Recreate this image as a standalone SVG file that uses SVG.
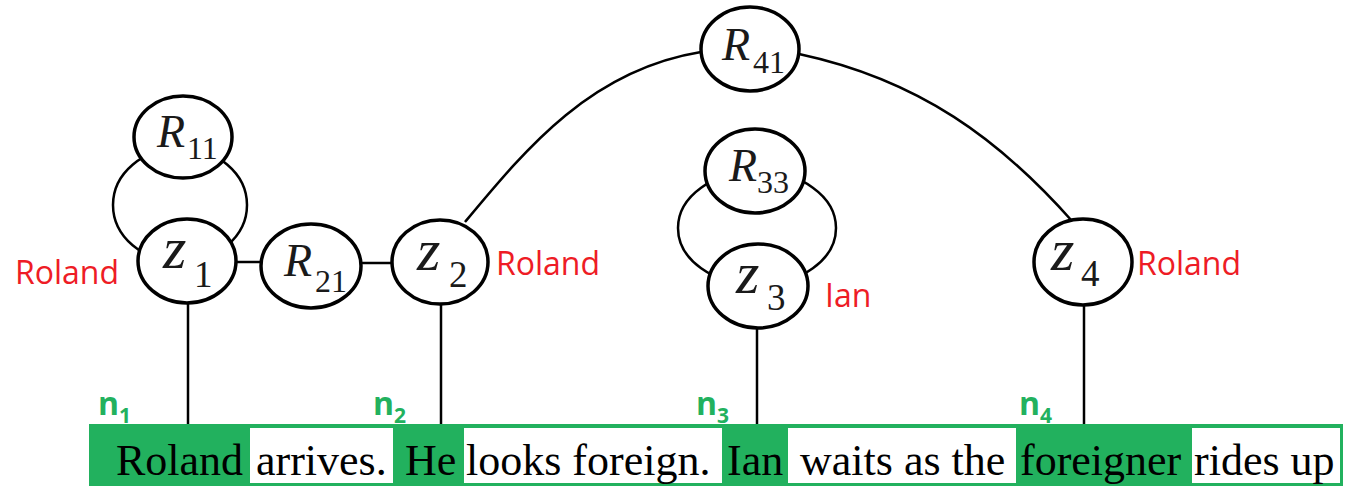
<svg xmlns="http://www.w3.org/2000/svg" width="1345" height="486" viewBox="0 0 1345 486">
  <style>
    .node { fill: #ffffff; stroke: #000000; stroke-width: 3.5; }
    .edge { fill: none; stroke: #000000; stroke-width: 2.5; }
    .hl { fill: #22b15e; }
    .plain { fill: #ffffff; }
    .word { font-size: 44px; fill: #000000; }
    .mi { font-style: italic; fill: #1a1a1a; }
    .R { font-size: 46px; }
    .z { font-size: 60px; }
    .sub { fill: #1a1a1a; font-size: 32px; }
    .zsub { font-size: 37px; }
    .ent { font-size: 32px; fill: #ee1c25; }
    .idx { font-weight: bold; font-size: 32px; fill: #22b15e; }
    .idx tspan { font-size: 21px; }
  </style>

  <!-- sentence strip -->
  <g id="sentence">
    <rect class="hl" x="89" y="424" width="1254" height="62"/>
    <rect class="plain" x="250" y="428" width="143" height="55"/>
    <rect class="plain" x="464" y="428" width="258" height="55"/>
    <rect class="plain" x="788" y="428" width="228" height="55"/>
    <rect class="plain" x="1192" y="428" width="148" height="55"/>
    <text class="word" font-family="Liberation Serif" x="116" y="475">Roland</text>
    <text class="word" font-family="Liberation Serif" x="256" y="475">arrives.</text>
    <text class="word" font-family="Liberation Serif" x="405" y="475">He</text>
    <text class="word" font-family="Liberation Serif" x="466" y="475">looks foreign.</text>
    <text class="word" font-family="Liberation Serif" x="727" y="475">Ian</text>
    <text class="word" font-family="Liberation Serif" x="800" y="475">waits as the</text>
    <text class="word" font-family="Liberation Serif" x="1020" y="475">foreigner</text>
    <text class="word" font-family="Liberation Serif" x="1194" y="475">rides up</text>
  </g>

  <!-- mention indices -->
  <g id="mentions">
    <text class="idx" font-family="Open Sans" x="98" y="415">n<tspan dy="8">1</tspan></text>
    <text class="idx" font-family="Open Sans" x="373" y="415">n<tspan dy="8">2</tspan></text>
    <text class="idx" font-family="Open Sans" x="696" y="415">n<tspan dy="8">3</tspan></text>
    <text class="idx" font-family="Open Sans" x="1019" y="415">n<tspan dy="8">4</tspan></text>
  </g>

  <!-- connectors -->
  <g id="connectors">
    <ellipse class="edge" cx="180" cy="205" rx="67" ry="57"/>
    <ellipse class="edge" cx="757" cy="228" rx="79" ry="57"/>
    <line class="edge" x1="236" y1="262" x2="262" y2="262"/>
    <line class="edge" x1="360" y1="263" x2="393" y2="263"/>
    <path class="edge" d="M465,222 C525,150 590,70 701,52"/>
    <path class="edge" d="M799,54 C920,80 1000,140 1072,221"/>
    <line class="edge" x1="188" y1="303" x2="188" y2="424"/>
    <line class="edge" x1="441" y1="304" x2="441" y2="424"/>
    <line class="edge" x1="757" y1="328" x2="757" y2="424"/>
    <line class="edge" x1="1084" y1="305" x2="1084" y2="424"/>
  </g>

  <!-- relation nodes -->
  <g id="R11">
    <ellipse class="node" cx="183" cy="137" rx="49" ry="41"/>
    <text class="mi R" font-family="Liberation Serif" x="157" y="147">R</text>
    <text class="sub" font-family="Liberation Serif" x="187" y="159">11</text>
  </g>
  <g id="R21">
    <ellipse class="node" cx="311" cy="266" rx="50" ry="42"/>
    <text class="mi R" font-family="Liberation Serif" x="284" y="276">R</text>
    <text class="sub" font-family="Liberation Serif" x="315" y="292">21</text>
  </g>
  <g id="R41">
    <ellipse class="node" cx="750" cy="49" rx="49" ry="42"/>
    <text class="mi R" font-family="Liberation Serif" x="722" y="60">R</text>
    <text class="sub" font-family="Liberation Serif" x="753" y="73">41</text>
  </g>
  <g id="R33">
    <ellipse class="node" cx="755" cy="171" rx="50" ry="42"/>
    <text class="mi R" font-family="Liberation Serif" x="729" y="181">R</text>
    <text class="sub" font-family="Liberation Serif" x="757" y="193">33</text>
  </g>

  <!-- entity nodes -->
  <g id="z1">
    <ellipse class="node" cx="187" cy="261" rx="49" ry="42"/>
    <text class="mi z" font-family="Liberation Serif" x="163" y="268">z</text>
    <text class="sub zsub" font-family="Liberation Serif" x="194" y="287">1</text>
    <text class="ent" font-family="Open Sans" x="15" y="284">Roland</text>
  </g>
  <g id="z2">
    <ellipse class="node" cx="440" cy="262" rx="48" ry="42"/>
    <text class="mi z" font-family="Liberation Serif" x="417" y="270">z</text>
    <text class="sub zsub" font-family="Liberation Serif" x="449" y="287">2</text>
    <text class="ent" font-family="Open Sans" x="496" y="275">Roland</text>
  </g>
  <g id="z3">
    <ellipse class="node" cx="758" cy="286" rx="50" ry="42"/>
    <text class="mi z" font-family="Liberation Serif" x="736" y="293">z</text>
    <text class="sub zsub" font-family="Liberation Serif" x="767" y="310">3</text>
    <text class="ent" font-family="Open Sans" x="825" y="307">Ian</text>
  </g>
  <g id="z4">
    <ellipse class="node" cx="1083" cy="262" rx="49" ry="43"/>
    <text class="mi z" font-family="Liberation Serif" x="1051" y="270">z</text>
    <text class="sub zsub" font-family="Liberation Serif" x="1081" y="286">4</text>
    <text class="ent" font-family="Open Sans" x="1137" y="275">Roland</text>
  </g>
</svg>
